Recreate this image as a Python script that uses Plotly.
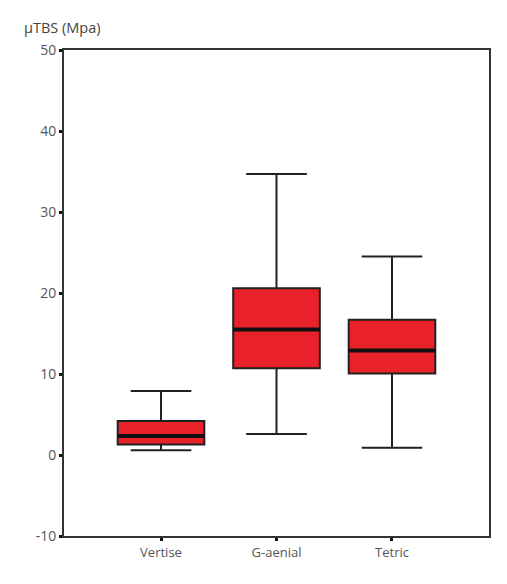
import plotly.graph_objects as go

# values (MPa)
groups = ["Vertise", "G-aenial", "Tetric"]
lower = [0.6, 2.6, 0.9]
q1 = [1.3, 10.7, 10.05]
median = [2.35, 15.5, 12.9]
q3 = [4.2, 20.6, 16.7]
upper = [7.9, 34.7, 24.5]
yticks = [-10, 0, 10, 20, 30, 40, 50]

pos = list(range(len(groups)))
half = 0.375

fig = go.Figure()
fig.add_trace(go.Box(
    x=pos, q1=q1, median=median, q3=q3,
    lowerfence=lower, upperfence=upper,
    width=2 * half, whiskerwidth=0.7,
    fillcolor="#e8212b",
    line=dict(color="#222222", width=2),
    showlegend=False, hoverinfo="skip",
))

# heavier median bars
for i, m in zip(pos, median):
    fig.add_trace(go.Scatter(
        x=[i - half, i + half], y=[m, m], mode="lines",
        line=dict(color="#111111", width=4),
        showlegend=False, hoverinfo="skip",
    ))

fig.add_annotation(
    text="\u00b5TBS (Mpa)", xref="paper", yref="paper",
    x=-0.1, y=1.046, xanchor="left", yanchor="middle",
    showarrow=False, font=dict(size=14.5, color="#444444"),
)

# page body adds an 8px offset, so the figure is sized to fit inside the window
fig.update_layout(
    width=499, height=576,
    margin=dict(l=56, r=18, t=42, b=48),
    paper_bgcolor="white", plot_bgcolor="white",
    font=dict(family="Open Sans, Arial, sans-serif", color="#555555"),
    xaxis=dict(
        range=[-0.84, 2.84], tickvals=pos, ticktext=groups,
        showgrid=False, zeroline=False, automargin=False,
        showline=True, linecolor="#333333", linewidth=2, mirror=True,
        ticks="outside", ticklen=3, tickwidth=3, tickcolor="#111111",
        tickfont=dict(size=13),
    ),
    yaxis=dict(
        range=[-10, 50], tickvals=yticks, ticktext=[str(v) for v in yticks],
        showgrid=False, zeroline=False, automargin=False,
        showline=True, linecolor="#333333", linewidth=2, mirror=True,
        ticks="outside", ticklen=3, tickwidth=3, tickcolor="#111111",
        tickfont=dict(size=14),
    ),
)

fig.write_html("out.html")
